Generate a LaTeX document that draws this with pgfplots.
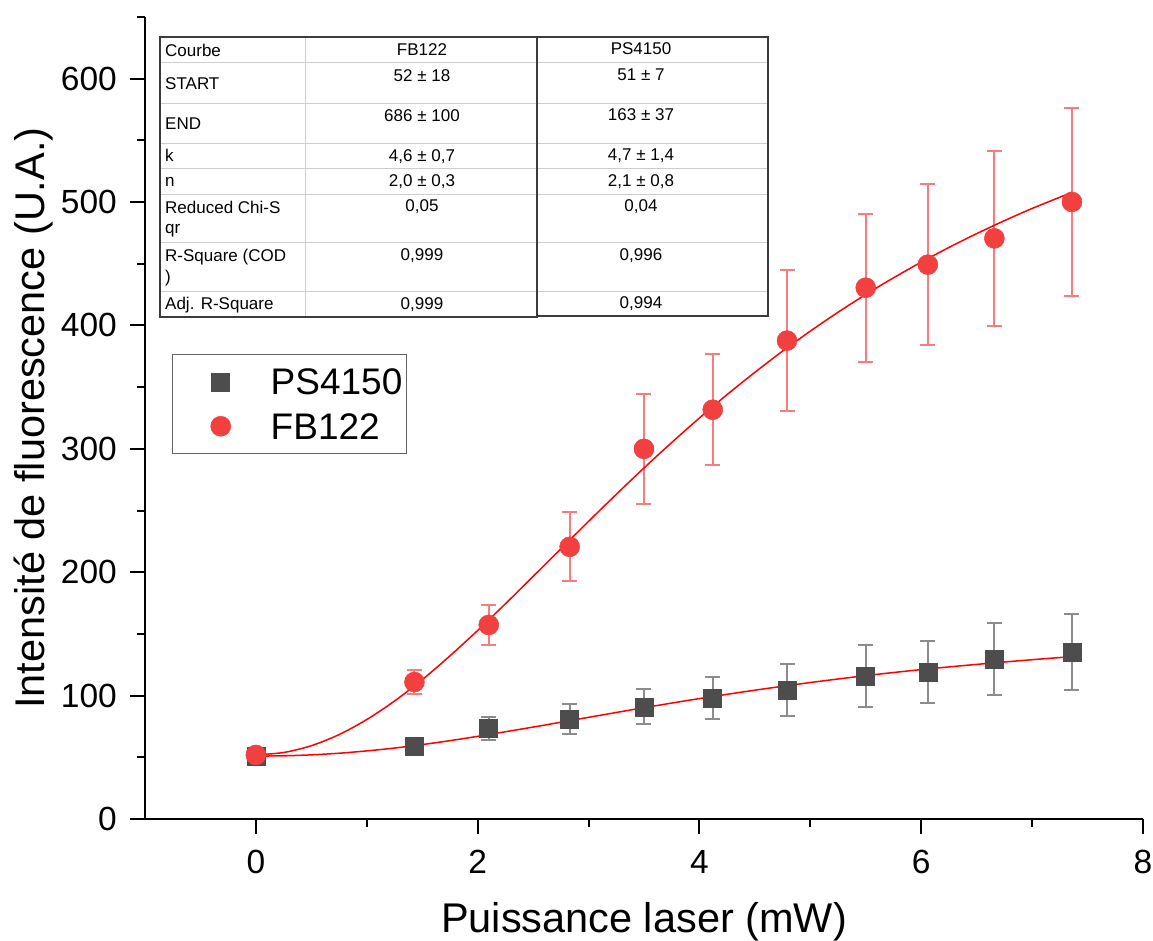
\documentclass[border=0pt]{standalone}
\usepackage{fontspec}
\setmainfont{Liberation Sans}
\usepackage{pgfplots}
\pgfplotsset{compat=1.18}
\usepackage{pgfplotstable}

\definecolor{psgray}{RGB}{77,77,77}
\definecolor{pserr}{RGB}{140,140,140}
\definecolor{fbred}{RGB}{242,63,63}
\definecolor{fberr}{RGB}{245,125,125}
\definecolor{fitred}{RGB}{255,0,0}
\definecolor{tabline}{RGB}{205,205,205}
\definecolor{tabborder}{RGB}{60,60,60}

\pgfplotstableread{
x y e
0 51 2
1.43 59.2 2
2.10 73.4 9.2
2.83 81 12
3.50 90.8 14.2
4.12 98 17
4.79 104.6 21
5.50 116 25
6.06 119.2 25
6.66 129.8 29.2
7.36 135.4 31.1
}\psdata

\pgfplotstableread{
x y e
0 51.9 3
1.43 111 9.5
2.10 157.3 16.5
2.83 220.6 28
3.50 300 44.6
4.12 331.7 45
4.79 387.7 57
5.50 430.6 60
6.06 449.3 65
6.66 470.6 71
7.36 500.1 76
}\fbdata

\pgfplotstableread{
x y
0 52
0.25 53.9
0.5 59.4
0.75 68.4
1 80.6
1.25 95.6
1.5 112.9
1.75 132.2
2 152.8
2.25 174.4
2.5 196.6
2.75 218.9
3 241.2
3.25 263.1
3.5 284.5
3.75 305.1
4 325.0
4.25 344.0
4.5 362.0
4.75 379.2
5 395.4
5.25 410.7
5.5 425.1
5.75 438.6
6 451.3
6.25 463.2
6.5 474.4
6.75 484.9
7 494.8
7.36 507.9
}\fbfit

\pgfplotstableread{
x y
0 51
0.25 51.2
0.5 52.0
0.75 53.3
1 55.2
1.25 57.5
1.5 60.3
1.75 63.5
2 67.0
2.5 74.5
3 82.4
3.5 90.2
4 97.6
4.5 104.4
5 110.6
5.5 116.2
6 121.1
6.5 125.3
7 129.1
7.36 131.6
}\psfit

\begin{document}
\begin{tikzpicture}
\path[use as bounding box] (-145bp,-122bp) rectangle (1008bp,819bp);
\begin{axis}[
  at={(0,0)}, anchor=south west, scale only axis,
  width=998bp, height=802bp,
  xmin=-1, xmax=8, ymin=0, ymax=650,
  axis x line*=bottom, axis y line*=left,
  axis line style={line width=2.5bp, black},
  xtick={0,2,4,6,8}, minor xtick={1,3,5,7},
  ytick={0,100,...,600}, minor ytick={50,150,...,650},
  tick align=outside,
  major tick length=15bp, minor tick length=8bp,
  every tick/.style={black, line width=2bp},
  /pgf/number format/assume math mode=true,
  ticklabel style={font=\fontsize{33.5bp}{40bp}\selectfont},
  xticklabel style={inner sep=0pt, anchor=north, yshift=-16bp},
  yticklabel style={inner sep=0pt, anchor=east, xshift=-13bp},
  xlabel={Puissance laser (mW)},
  ylabel={Intensité de fluorescence (U.A.)},
  xlabel style={font=\fontsize{41.5bp}{48bp}\selectfont, at={(axis description cs:0.5,-0.1409)}, anchor=base},
  ylabel style={font=\fontsize{41.5bp}{48bp}\selectfont, at={(axis description cs:-0.1012,0.5)}, anchor=base},
  legend style={at={(axis description cs:0.02705,0.5798)}, anchor=north west,
    draw={rgb,255:red,100;green,100;blue,100}, line width=1.5bp,
    inner xsep=1bp, inner ysep=5bp, row sep=0bp,
    font=\fontsize{37bp}{44bp}\selectfont,
    nodes={inner xsep=3bp, inner ysep=9.25bp, text depth=0bp}},
  legend cell align=left,
  legend image code/.code={\path[draw=none,fill=none] (-47bp,-10bp) rectangle (47bp,10bp); \draw[#1] plot coordinates {(0bp,0bp)};},
  clip=false,
]
\addplot[only marks, mark=square*, mark size=9bp, color=psgray,
  mark options={draw=psgray, fill=psgray, line width=0.5bp},
  error bars/.cd, y dir=both, y explicit,
  error bar style={color=pserr, line width=2bp},
  error mark options={rotate=90, mark size=7.5bp, line width=2bp, color=pserr}]
  table[x=x, y=y, y error=e] {\psdata};
\addlegendentry{PS4150}
\addplot[only marks, mark=*, mark size=10bp, color=fbred,
  mark options={draw=fbred, fill=fbred, line width=0.5bp},
  error bars/.cd, y dir=both, y explicit,
  error bar style={color=fberr, line width=2bp},
  error mark options={rotate=90, mark size=7.5bp, line width=2bp, color=fberr}]
  table[x=x, y=y, y error=e] {\fbdata};
\addlegendentry{FB122}
\addplot[fitred, line width=1.5bp, smooth, forget plot] table[x=x,y=y] {\psfit};
\addplot[fitred, line width=1.5bp, smooth, forget plot] table[x=x,y=y] {\fbfit};
\end{axis}
\begin{scope}[x=1bp,y=1bp,shift={(-145bp,819bp)},yscale=-1, font=\fontsize{17bp}{20bp}\selectfont]
\fill[white] (160,37) rectangle (768,317);
\foreach \r in {63,104,144,169,195,243,292}{\draw[tabline, line width=1bp] (160,\r) -- (768,\r);}
\draw[tabline, line width=1bp] (306,37) -- (306,317);
\draw[tabborder, line width=1.5bp] (160,37) rectangle (537,317);
\draw[tabborder, line width=1.5bp] (537,37) rectangle (768,316);
\node[anchor=base west, inner sep=0pt] at (165,56.7) {Courbe};
\node[anchor=base west, inner sep=0pt] at (165,89.3) {START};
\node[anchor=base west, inner sep=0pt] at (165,129.3) {END};
\node[anchor=base west, inner sep=0pt] at (165,162) {k};
\node[anchor=base west, inner sep=0pt] at (165,186.5) {n};
\node[anchor=base west, inner sep=0pt] at (165,213.7) {Reduced Chi-S};
\node[anchor=base west, inner sep=0pt] at (165,233.5) {qr};
\node[anchor=base west, inner sep=0pt] at (165,261.7) {R-Square (COD};
\node[anchor=base west, inner sep=0pt] at (165,283) {)};
\node[anchor=base west, inner sep=0pt] at (165,310) {Adj. R-Square};
\node[anchor=base, inner sep=0pt] at (422,55.3) {FB122};
\node[anchor=base, inner sep=0pt] at (422,82) {52 ± 18};
\node[anchor=base, inner sep=0pt] at (422,121.7) {686 ± 100};
\node[anchor=base, inner sep=0pt] at (422,161.3) {4,6 ± 0,7};
\node[anchor=base, inner sep=0pt] at (422,187) {2,0 ± 0,3};
\node[anchor=base, inner sep=0pt] at (422,212) {0,05};
\node[anchor=base, inner sep=0pt] at (422,261) {0,999};
\node[anchor=base, inner sep=0pt] at (422,309.3) {0,999};
\node[anchor=base, inner sep=0pt] at (641,54.3) {PS4150};
\node[anchor=base, inner sep=0pt] at (641,80.7) {51 ± 7};
\node[anchor=base, inner sep=0pt] at (641,120.3) {163 ± 37};
\node[anchor=base, inner sep=0pt] at (641,161) {4,7 ± 1,4};
\node[anchor=base, inner sep=0pt] at (641,187) {2,1 ± 0,8};
\node[anchor=base, inner sep=0pt] at (641,212) {0,04};
\node[anchor=base, inner sep=0pt] at (641,261) {0,996};
\node[anchor=base, inner sep=0pt] at (641,308.7) {0,994};
\end{scope}
\end{tikzpicture}
\end{document}
